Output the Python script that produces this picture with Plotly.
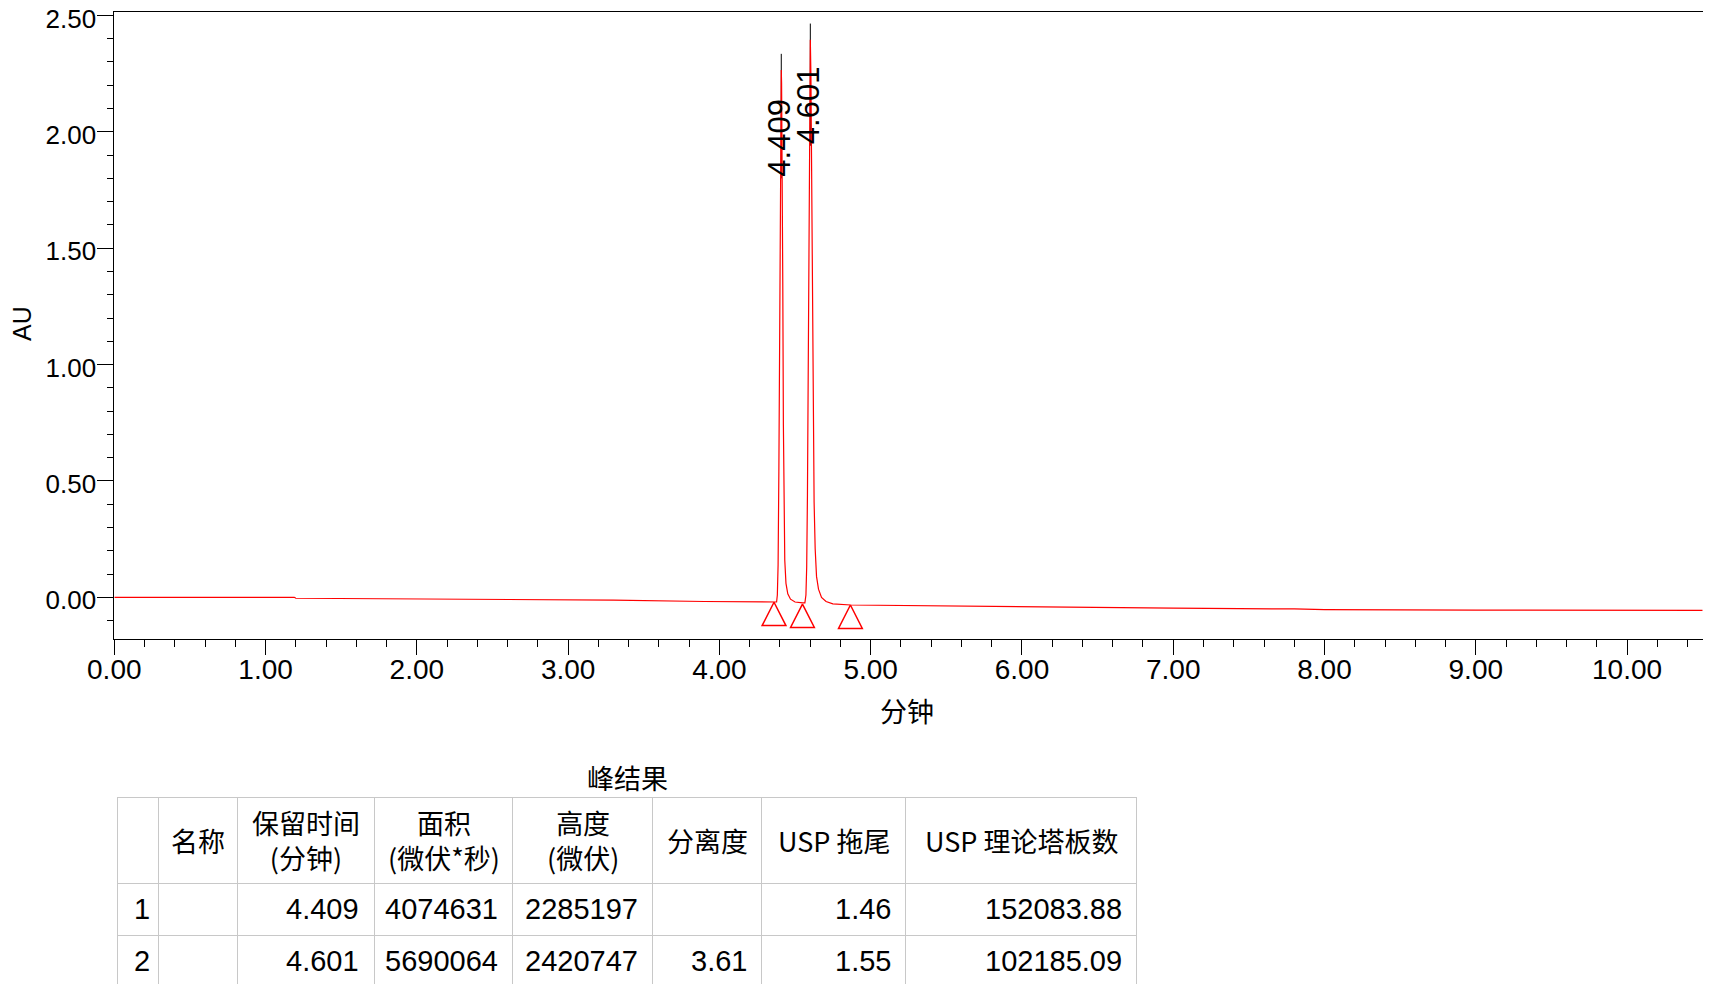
import plotly.graph_objects as go

# chromatogram trace (minutes, AU)
time_min = [0.00, 0.92, 1.19, 1.20, 2.50, 3.30, 3.90, 4.360,
            4.378, 4.383, 4.388, 4.393, 4.398, 4.403, 4.407, 4.409, 4.411, 4.415,
            4.419, 4.423, 4.427, 4.432, 4.440, 4.452, 4.470, 4.500, 4.550,
            4.565, 4.572, 4.577, 4.582, 4.587, 4.592, 4.597, 4.601, 4.605, 4.610,
            4.615, 4.620, 4.626, 4.633, 4.642, 4.655, 4.675, 4.705, 4.750, 4.868,
            5.00, 5.50, 6.00, 6.30, 7.00, 7.80, 8.00, 9.00, 10.50]
au = [0.000, 0.000, 0.000, -0.004, -0.008, -0.012, -0.018, -0.021,
      -0.020, 0.01, 0.14, 0.54, 1.19, 1.84, 2.19, 2.265, 2.21, 1.89,
      1.34, 0.74, 0.37, 0.16, 0.06, 0.015, -0.008, -0.020, -0.024,
      -0.024, 0.01, 0.13, 0.44, 0.99, 1.64, 2.19, 2.395, 2.24, 1.84,
      1.29, 0.79, 0.41, 0.21, 0.09, 0.035, 0.000, -0.018, -0.028, -0.033,
      -0.034, -0.037, -0.040, -0.042, -0.046, -0.050, -0.053, -0.055, -0.056]

peak_rt = [4.409, 4.601]
peak_labels = ["4.409", "4.601"]
marker_bottom = [1.80, 1.94]
marker_top = [2.335, 2.465]

# peak start / end marks (apex of each triangle)
boundary_t = [4.361, 4.549, 4.866]
boundary_au = [-0.021, -0.029, -0.033]

# peak results table
tbl_header = ["", "名称", "保留时间<br>(分钟)", "面积<br>(微伏*秒)", "高度<br>(微伏)",
              "分离度", "USP 拖尾", "USP 理论塔板数"]
tbl_no = ["1", "2"]
tbl_name = ["", ""]
tbl_rt = ["4.409", "4.601"]
tbl_area = ["4074631", "5690064"]
tbl_height = ["2285197", "2420747"]
tbl_res = ["", "3.61"]
tbl_tail = ["1.46", "1.55"]
tbl_plates = ["152083.88", "102185.09"]

# the page body keeps its default 8px margin, so the figure is 16px smaller
OFF = 8
W, H = 1711 - 2 * OFF, 993 - 2 * OFF
FONT = "Arial, Liberation Sans, Noto Sans CJK SC"
CJK = "Noto Sans CJK SC, Arial"

X_RANGE = [0, 10.5]
Y_RANGE = [-0.179, 2.516]
PLOT_X = [114.3, 1702.7]
PLOT_Y = [11.7, 639.0]


def px(x):
    return (x - OFF) / W


def py(y):
    return 1 - (y - OFF) / H


# triangle size in pixels, turned into data units
tri_half_w = 11.9 * (X_RANGE[1] - X_RANGE[0]) / (PLOT_X[1] - PLOT_X[0])
tri_h = 23.4 * (Y_RANGE[1] - Y_RANGE[0]) / (PLOT_Y[1] - PLOT_Y[0])

# table geometry in page pixels
col_edges = [117.5, 158.2, 237.9, 374.3, 512.9, 652.5, 761.7, 905.7, 1137.0]
tbl_top, hdr_h, row_h = 797, 86, 52
cell_pad = 13

fig = go.Figure()

for rt, y0, y1 in zip(peak_rt, marker_bottom, marker_top):
    fig.add_trace(go.Scatter(x=[rt, rt], y=[y0, y1], mode="lines",
                             line=dict(color="black", width=1), hoverinfo="skip"))

fig.add_trace(go.Scatter(x=time_min, y=au, mode="lines",
                         line=dict(color="#ff0000", width=1.2)))

tx, ty = [], []
for t, a in zip(boundary_t, boundary_au):
    tx += [t, t - tri_half_w, t + tri_half_w, t, None]
    ty += [a, a - tri_h, a - tri_h, a, None]
fig.add_trace(go.Scatter(x=tx, y=ty, mode="lines",
                         line=dict(color="#ff0000", width=1.5), hoverinfo="skip"))

for i, (rt, lab) in enumerate(zip(peak_rt, peak_labels)):
    fig.add_annotation(x=rt - 0.013, y=marker_bottom[i], text=lab,
                       textangle=-90, showarrow=False, xanchor="center", yanchor="bottom",
                       font=dict(family=FONT, size=31, color="black"))

widths = [b - a for a, b in zip(col_edges[:-1], col_edges[1:])]
columns = [tbl_no, tbl_name, tbl_rt, tbl_area, tbl_height, tbl_res, tbl_tail, tbl_plates]
fig.add_trace(go.Table(
    domain=dict(x=[px(col_edges[0]), px(col_edges[-1])], y=[0, py(tbl_top)]),
    columnwidth=widths,
    header=dict(values=[""] * len(tbl_header), height=hdr_h,
                line=dict(color="#c8c8c8", width=1), fill=dict(color="white")),
    cells=dict(values=[[""] * len(c) for c in columns], height=row_h,
               line=dict(color="#c8c8c8", width=1), fill=dict(color="white")),
))

# header labels, centred in each header cell
for i, txt in enumerate(tbl_header):
    if not txt:
        continue
    cx = (col_edges[i] + col_edges[i + 1]) / 2
    fig.add_annotation(xref="paper", yref="paper", x=px(cx), y=py(tbl_top + hdr_h / 2),
                       text=txt, showarrow=False, xanchor="center", yanchor="middle",
                       font=dict(family=CJK, size=27, color="black"))

# body cells: first column left aligned, the rest right aligned
for ci, col in enumerate(columns):
    for ri, txt in enumerate(col):
        if not txt:
            continue
        cy = tbl_top + hdr_h + row_h * ri + row_h / 2
        if ci == 0:
            x, anchor = col_edges[ci] + 14, "left"
        else:
            x, anchor = col_edges[ci + 1] - cell_pad, "right"
        fig.add_annotation(xref="paper", yref="paper", x=px(x), y=py(cy), text=txt,
                           showarrow=False, xanchor=anchor, yanchor="middle",
                           font=dict(family=FONT, size=29, color="black"))

fig.add_annotation(xref="paper", yref="paper", x=px(627), y=py(777), text="峰结果",
                   showarrow=False, xanchor="center", yanchor="middle",
                   font=dict(family=CJK, size=27, color="black"))
fig.add_annotation(xref="paper", yref="paper", x=px(907), y=py(710), text="分钟",
                   showarrow=False, xanchor="center", yanchor="middle",
                   font=dict(family=CJK, size=27, color="black"))
fig.add_annotation(xref="paper", yref="paper", x=px(22), y=py(324), text="AU",
                   textangle=-90, showarrow=False, xanchor="center", yanchor="middle",
                   font=dict(family=FONT, size=25, color="black"))

fig.update_layout(
    width=W, height=H, showlegend=False,
    margin=dict(l=0, r=0, t=0, b=0, autoexpand=False),
    paper_bgcolor="white", plot_bgcolor="white",
    xaxis=dict(domain=[px(PLOT_X[0]), px(PLOT_X[1])], range=X_RANGE, dtick=1, tick0=0,
               tickformat=".2f", ticks="outside", ticklen=15, tickcolor="black",
               ticklabelstandoff=-10, ticklabeloverflow="allow",
               tickfont=dict(family=FONT, size=28, color="black"), automargin=False,
               minor=dict(dtick=0.2, ticks="outside", ticklen=7, tickcolor="black"),
               showline=True, linecolor="black", mirror=True, showgrid=False, zeroline=False),
    yaxis=dict(domain=[py(PLOT_Y[1]), py(PLOT_Y[0])], range=Y_RANGE, dtick=0.5, tick0=0,
               tickformat=".2f", ticks="outside", ticklen=16, tickcolor="black",
               ticklabelstandoff=-4, ticklabelshift=3, ticklabeloverflow="allow",
               tickfont=dict(family=FONT, size=26, color="black"), automargin=False,
               minor=dict(dtick=0.1, ticks="outside", ticklen=6, tickcolor="black"),
               showline=True, linecolor="black", mirror=True, showgrid=False, zeroline=False),
)

fig.write_html("out.html")
